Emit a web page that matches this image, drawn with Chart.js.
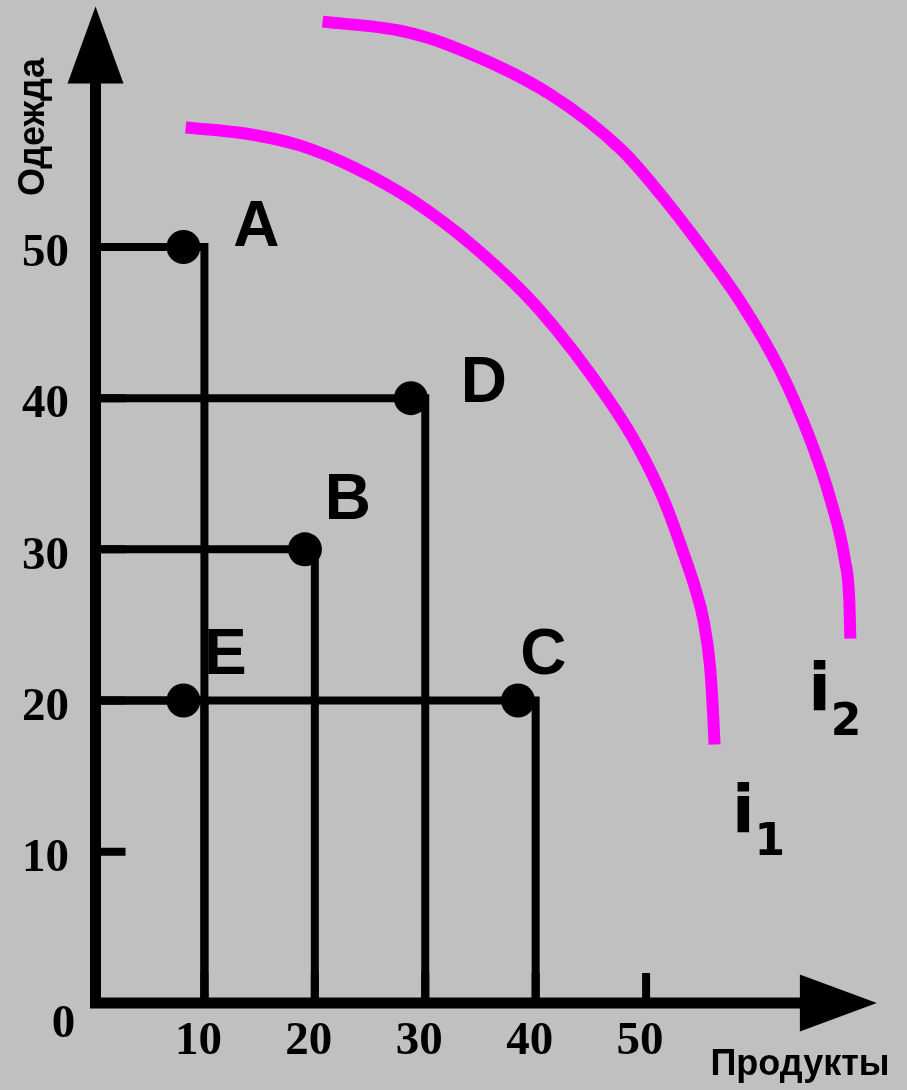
<!DOCTYPE html>
<html>
<head>
<meta charset="utf-8">
<script src="https://cdn.jsdelivr.net/npm/chart.js@4.4.0/dist/chart.umd.min.js"></script>
<style>
	body { margin: 0; background: #c0c0c0; }
	#wrap { width: 907px; height: 1090px; }
</style>
</head>
<body>
<div id="wrap"><canvas id="chart"></canvas></div>
<script>
// bundles of goods
var pointNames = ['A', 'B', 'C', 'D', 'E'];
var goodsX = [10, 20, 40, 30, 10];      // Продукты
var clothesY = [50, 30, 20, 40, 20];    // Одежда
var dotX = [8.1, 19.1, 38.4, 28.7, 8.1]; // dots sit a little left of their drop lines

var xTicks = [10, 20, 30, 40, 50];
var yTicks = [10, 20, 30, 40, 50];

// indifference curves
var i1X = [8.3, 13.7, 18.7, 23.7, 28.8, 34.6, 40.4, 46.6, 49.4, 51.7, 53.6, 54.5, 55.2, 55.8, 56.1, 56.2];
var i1Y = [57.9, 57.5, 56.7, 55.2, 53.1, 49.9, 45.8, 39.9, 36.6, 33.1, 29.3, 27.3, 25.3, 22.2, 18.7, 17.1];
var i2X = [20.7, 27.7, 32.3, 41.3, 47.8, 51.4, 54.9, 58.7, 62.1, 64.9, 66.7, 68.0, 68.4, 68.5];
var i2Y = [64.9, 64.3, 63.3, 60.1, 56.4, 53.4, 50.1, 46.2, 41.9, 37.2, 33.3, 29.3, 26.7, 24.1];

// where the letters sit (data units)
var nameX = [14.7, 23.0, 40.7, 35.3, 11.9];
var nameY = [51.2, 33.2, 22.9, 40.9, 22.9];

function toPoints(xs, ys) {
	var pts = [];
	for (var i = 0; i < xs.length; i++) {
		pts.push({ x: xs[i], y: ys[i] });
	}
	return pts;
}

var datasets = [];

// dots first so they end up on top
var dots = [];
pointNames.forEach(function (n, i) {
	dots.push({ x: dotX[i], y: clothesY[i] });
});
datasets.push({
	label: 'bundles',
	data: dots,
	showLine: false,
	pointRadius: 17,
	pointBackgroundColor: '#000',
	pointBorderWidth: 0
});

// L shaped drop lines to the axes
pointNames.forEach(function (n, i) {
	datasets.push({
		label: n,
		data: [{ x: 0, y: clothesY[i] }, { x: goodsX[i], y: clothesY[i] }, { x: goodsX[i], y: 0 }],
		borderColor: '#000',
		borderWidth: 8,
		borderJoinStyle: 'miter',
		pointRadius: 0,
		tension: 0
	});
});

datasets.push({
	label: 'i1',
	data: toPoints(i1X, i1Y),
	borderColor: '#ff00ff',
	borderWidth: 12,
	borderCapStyle: 'butt',
	pointRadius: 0,
	cubicInterpolationMode: 'monotone'
});
datasets.push({
	label: 'i2',
	data: toPoints(i2X, i2Y),
	borderColor: '#ff00ff',
	borderWidth: 12,
	borderCapStyle: 'butt',
	pointRadius: 0,
	cubicInterpolationMode: 'monotone'
});

var sketch = {
	id: 'sketch',
	beforeDraw: function (chart) {
		var ctx = chart.ctx;
		ctx.save();
		ctx.fillStyle = '#c0c0c0';
		ctx.fillRect(0, 0, chart.width, chart.height);
		ctx.restore();
	},
	afterDatasetsDraw: function (chart) {
		var ctx = chart.ctx;
		var xs = chart.scales.x, ys = chart.scales.y;
		var x0 = xs.getPixelForValue(0) + 1.5;
		var y0 = ys.getPixelForValue(0);
		var yTip = ys.getPixelForValue(65.9);
		var xTip = xs.getPixelForValue(70.9);
		ctx.save();
		ctx.fillStyle = '#000';
		ctx.strokeStyle = '#000';

		// axes
		ctx.lineWidth = 11;
		ctx.beginPath();
		ctx.moveTo(x0, y0 + 5);
		ctx.lineTo(x0, yTip + 70);
		ctx.moveTo(x0 - 5.5, y0);
		ctx.lineTo(xTip - 70, y0);
		ctx.stroke();
		ctx.beginPath();
		ctx.moveTo(x0, yTip);
		ctx.lineTo(x0 + 28, yTip + 77);
		ctx.lineTo(x0 - 28, yTip + 77);
		ctx.closePath();
		ctx.fill();
		ctx.beginPath();
		ctx.moveTo(xTip, y0);
		ctx.lineTo(xTip - 77, y0 - 28.5);
		ctx.lineTo(xTip - 77, y0 + 28.5);
		ctx.closePath();
		ctx.fill();

		// ticks pointing inwards
		ctx.lineWidth = 8;
		ctx.beginPath();
		yTicks.forEach(function (v) {
			var py = ys.getPixelForValue(v);
			ctx.moveTo(x0, py);
			ctx.lineTo(x0 + 30, py);
		});
		xTicks.forEach(function (v) {
			var px = xs.getPixelForValue(v);
			ctx.moveTo(px, y0);
			ctx.lineTo(px, y0 - 30);
		});
		ctx.stroke();

		// point names
		ctx.textAlign = 'center';
		ctx.textBaseline = 'middle';
		ctx.font = 'bold 64px "Liberation Sans", Arial, sans-serif';
		pointNames.forEach(function (n, i) {
			ctx.fillText(n, xs.getPixelForValue(nameX[i]), ys.getPixelForValue(nameY[i]));
		});

		// curve names
		ctx.textBaseline = 'alphabetic';
		ctx.font = 'bold 66px "DejaVu Sans", Verdana, sans-serif';
		ctx.fillText('i', xs.getPixelForValue(58.8), ys.getPixelForValue(11.3));
		ctx.fillText('i', xs.getPixelForValue(65.7), ys.getPixelForValue(19.4));
		ctx.font = 'bold 44px "DejaVu Sans", Verdana, sans-serif';
		ctx.fillText('1', xs.getPixelForValue(61.2), ys.getPixelForValue(9.8));
		ctx.fillText('2', xs.getPixelForValue(68.1), ys.getPixelForValue(17.7));

		// origin
		ctx.textBaseline = 'middle';
		ctx.font = 'bold 47px "Liberation Serif", "Times New Roman", serif';
		ctx.fillText('0', x0 - 32, y0 + 22);

		// axis titles
		ctx.font = 'bold 36px "Liberation Sans", Arial, sans-serif';
		ctx.fillText('Продукты', 800, 1065.5);
		ctx.translate(34.5, 127);
		ctx.rotate(-Math.PI / 2);
		ctx.fillText('Одежда', 0, 0);
		ctx.restore();
	}
};

var serifFont = { family: '"Liberation Serif", "Times New Roman", serif', size: 47, weight: 'bold', lineHeight: 1 };

new Chart(document.getElementById('chart'), {
	type: 'line',
	data: { datasets: datasets },
	plugins: [sketch],
	options: {
		responsive: true,
		maintainAspectRatio: false,
		animation: false,
		events: [],
		layout: {
			autoPadding: false,
			padding: { top: 5, right: 18, left: 0, bottom: 0 }
		},
		plugins: {
			legend: { display: false },
			tooltip: { enabled: false }
		},
		scales: {
			x: {
				type: 'linear',
				min: 0,
				max: 72,
				grid: { display: false, drawTicks: false },
				border: { display: false },
				afterBuildTicks: function (s) {
					s.ticks = xTicks.map(function (v) { return { value: v }; });
				},
				afterFit: function (s) {
					s.height = 87;
					s.paddingLeft = 0;
					s.paddingRight = 0;
				},
				ticks: {
					color: '#000',
					font: serifFont,
					padding: 15,
					labelOffset: -6,
					maxRotation: 0,
					autoSkip: false
				}
			},
			y: {
				type: 'linear',
				min: 0,
				max: 66,
				grid: { display: false, drawTicks: false },
				border: { display: false },
				afterBuildTicks: function (s) {
					s.ticks = yTicks.map(function (v) { return { value: v }; });
				},
				afterFit: function (s) {
					s.width = 94;
					s.paddingTop = 0;
					s.paddingBottom = 0;
				},
				ticks: {
					color: '#000',
					font: serifFont,
					padding: 25,
					labelOffset: 7,
					autoSkip: false
				}
			}
		}
	}
});
</script>
</body>
</html>
